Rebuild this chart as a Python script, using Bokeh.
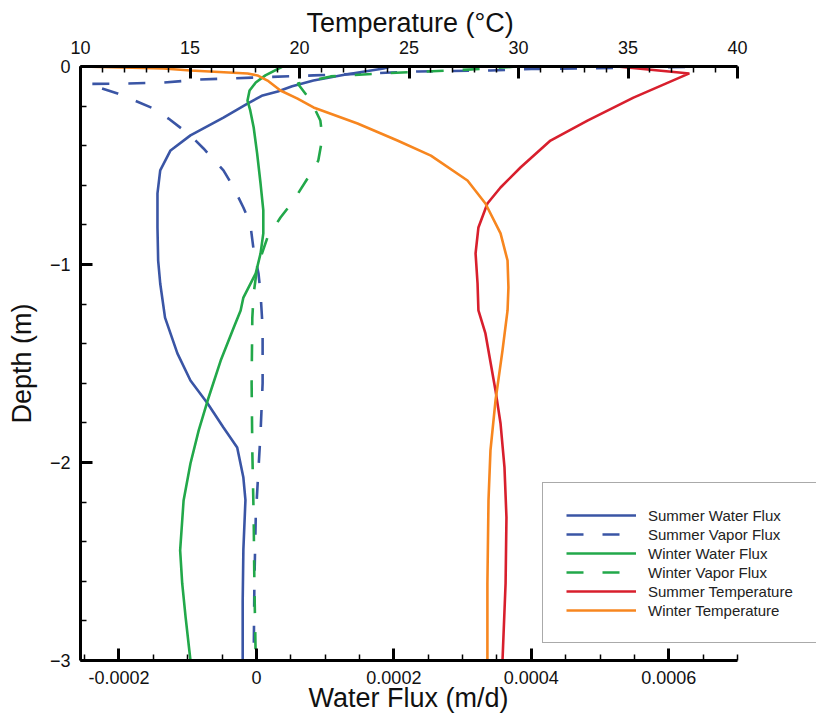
import numpy as np
from bokeh.plotting import figure
from bokeh.models import (Range1d, LinearAxis, FixedTicker, CustomJSTickFormatter,
                          Legend, LegendItem, Title)
from bokeh.embed import file_html
from bokeh.resources import INLINE

# ---------------- data ----------------
# Summer water flux (m/d) vs depth (m)
sw_depth = [0.000, -0.010, -0.040, -0.071, -0.100, -0.126, -0.146, -0.187, -0.258, -0.348,
            -0.424, -0.525, -0.641, -0.813, -0.980, -1.096, -1.268, -1.449, -1.586, -1.702,
            -1.823, -1.924, -2.076, -2.190, -2.440, -2.700, -3.000]
sw_flux = [1.95e-4, 1.85e-4, 1.30e-4, 0.83e-4, 0.52e-4, 0.31e-4, 0.09e-4, -0.13e-4, -0.48e-4, -0.96e-4,
           -1.25e-4, -1.40e-4, -1.44e-4, -1.44e-4, -1.43e-4, -1.40e-4, -1.33e-4, -1.15e-4, -0.96e-4, -0.71e-4,
           -0.48e-4, -0.28e-4, -0.19e-4, -0.16e-4, -0.19e-4, -0.20e-4, -0.20e-4]

# Summer vapor flux
sv_depth = [0.000, -0.005, -0.0126, -0.020, -0.025, -0.040, -0.045, -0.056, -0.066, -0.081,
            -0.086, -0.088, -0.136, -0.162, -0.212, -0.263, -0.348, -0.414, -0.525, -0.600,
            -0.712, -0.793, -0.929, -1.045, -1.146, -1.320, -1.600, -1.850, -2.030, -2.280,
            -2.610, -3.000]
sv_flux = [6.76e-4, 5.6e-4, 4.0e-4, 3.4e-4, 2.35e-4, 1.27e-4, 0.83e-4, -0.06e-4, -0.82e-4, -1.35e-4,
           -1.88e-4, -2.45e-4, -2.02e-4, -1.84e-4, -1.50e-4, -1.28e-4, -0.96e-4, -0.77e-4, -0.48e-4, -0.35e-4,
           -0.19e-4, -0.09e-4, -0.04e-4, 0.03e-4, 0.06e-4, 0.09e-4, 0.09e-4, 0.06e-4, 0.03e-4, -0.01e-4,
           -0.03e-4, -0.04e-4]

# Winter water flux
ww_depth = [0.000, -0.045, -0.081, -0.121, -0.172, -0.222, -0.308, -0.439, -0.591, -0.727,
            -0.843, -0.944, -1.045, -1.167, -1.232, -1.318, -1.485, -1.687, -1.838, -2.005,
            -2.192, -2.444, -2.611, -2.783, -3.000]
ww_flux = [0.38e-4, 0.13e-4, -0.01e-4, -0.10e-4, -0.13e-4, -0.09e-4, -0.04e-4, 0.01e-4, 0.06e-4, 0.10e-4,
           0.10e-4, 0.06e-4, -0.01e-4, -0.19e-4, -0.23e-4, -0.33e-4, -0.52e-4, -0.71e-4, -0.84e-4, -0.96e-4,
           -1.06e-4, -1.11e-4, -1.08e-4, -1.03e-4, -0.96e-4]

# Winter vapor flux
wv_depth = [0.000, -0.010, -0.020, -0.035, -0.050, -0.086, -0.172, -0.273, -0.359, -0.475,
            -0.540, -0.677, -0.763, -0.864, -1.015, -1.146, -1.270, -1.600, -1.940, -2.280,
            -2.610, -3.000]
wv_flux = [3.77e-4, 3.4e-4, 2.83e-4, 1.8e-4, 1.08e-4, 0.60e-4, 0.79e-4, 0.93e-4, 0.96e-4, 0.90e-4,
           0.79e-4, 0.54e-4, 0.35e-4, 0.16e-4, 0.01e-4, -0.04e-4, -0.06e-4, -0.07e-4, -0.06e-4, -0.04e-4,
           -0.03e-4, -0.01e-4]

# Summer temperature (deg C)
st_depth = [0.000, -0.035, -0.157, -0.273, -0.374, -0.510, -0.611, -0.692, -0.813, -0.944,
            -1.096, -1.232, -1.348, -1.636, -1.803, -2.025, -2.278, -2.611, -3.000]
st_temp = [34.5, 37.8, 35.25, 33.15, 31.46, 30.09, 29.18, 28.58, 28.17, 28.04,
           28.13, 28.17, 28.49, 28.95, 29.18, 29.36, 29.45, 29.41, 29.27]

# Winter temperature
wt_depth = [0.000, -0.010, -0.020, -0.035, -0.045, -0.071, -0.121, -0.162, -0.207, -0.288,
            -0.374, -0.450, -0.576, -0.692, -0.843, -0.980, -1.116, -1.232, -1.434, -1.687,
            -1.939, -2.192, -2.611, -3.000]
wt_temp = [10.0, 13.79, 15.02, 17.63, 18.08, 18.54, 19.13, 19.91, 20.64, 22.65,
           24.47, 26.0, 27.67, 28.49, 29.18, 29.5, 29.54, 29.5, 29.27, 28.95,
           28.72, 28.63, 28.58, 28.58]

series_labels = ["Summer Water Flux", "Summer Vapor Flux", "Winter Water Flux",
                 "Winter Vapor Flux", "Summer Temperature", "Winter Temperature"]

flux_ticks = [-0.0002, 0.0, 0.0002, 0.0004, 0.0006]
temp_ticks = [10, 15, 20, 25, 30, 35, 40]
depth_ticks = [0, -1, -2, -3]

# ---------------- figure ----------------
BLUE = "#3a55a5"
GREEN = "#22a84a"
RED = "#d81f2d"
ORANGE = "#f7861f"
FONT = "Liberation Sans"

FLUX_LO, FLUX_HI = -0.000256, 0.0007
T_LO, T_HI = 10, 40
# frame runs 79 px past the axes' right end so the legend can overhang
extra = 79.0 / 657.0
p = figure(width=816, height=716, output_backend="svg", toolbar_location=None,
           x_range=Range1d(FLUX_LO, FLUX_HI + (FLUX_HI - FLUX_LO) * extra), y_range=Range1d(-3, 0),
           x_axis_location=None, y_axis_location=None,
           min_border_left=80, min_border_right=0, min_border_top=66, min_border_bottom=56)
p.extra_x_ranges = {"temp": Range1d(T_LO, T_HI + (T_HI - T_LO) * extra)}
p.grid.visible = False
p.outline_line_color = None
p.background_fill_color = "white"
p.border_fill_color = "white"

def style_axis(ax):
    ax.axis_line_width = 3
    ax.axis_line_color = "black"
    ax.major_tick_line_width = 3
    ax.major_tick_in = 12
    ax.major_tick_out = 0
    ax.minor_tick_line_width = 1.5
    ax.minor_tick_in = 6
    ax.minor_tick_out = 0
    ax.major_label_text_font = FONT
    ax.major_label_text_font_size = "18px"
    ax.major_label_text_color = "#111111"
    ax.axis_label_text_font = FONT
    ax.axis_label_text_font_size = "27px"
    ax.axis_label_text_font_style = "normal"
    ax.axis_label_text_color = "#111111"

flux_minor = list(np.round(np.arange(-0.00025, 0.00070001, 0.00005), 6))
bottom = LinearAxis(ticker=FixedTicker(ticks=flux_ticks, minor_ticks=flux_minor),
                    formatter=CustomJSTickFormatter(code="return Math.abs(tick) < 1e-12 ? '0' : tick.toFixed(4);"),
                    bounds=(FLUX_LO, FLUX_HI))
style_axis(bottom)
bottom.major_label_standoff = 10
p.add_layout(bottom, "below")

top = LinearAxis(x_range_name="temp",
                 ticker=FixedTicker(ticks=temp_ticks, minor_ticks=list(range(10, 41))),
                 bounds=(T_LO, T_HI))
style_axis(top)
top.major_label_standoff = 13
p.add_layout(top, "above")

depth_minor = list(np.round(np.arange(-3.0, 0.0001, 0.2), 2))
left = LinearAxis(ticker=FixedTicker(ticks=depth_ticks, minor_ticks=depth_minor),
                  axis_label="Depth (m)")
style_axis(left)
left.major_label_standoff = 10
left.axis_label_standoff = 10
p.add_layout(left, "left")

# axis titles centred over the axes (not over the wider frame)
top_title = Title(text="Temperature (°C)", align="left", offset=226, standoff=0,
                  text_font=FONT, text_font_size="27px", text_font_style="normal",
                  text_color="#111111")
p.add_layout(top_title, "above")
bottom_title = Title(text="Water Flux (m/d)", align="left", offset=228, standoff=-8,
                     vertical_align="top",
                     text_font=FONT, text_font_size="27px", text_font_style="normal",
                     text_color="#111111")
p.add_layout(bottom_title, "below")

LW = 2.6
DASH = "17 19"
r1 = p.line(sw_flux, sw_depth, line_color=BLUE, line_width=LW)
r2 = p.line(sv_flux, sv_depth, line_color=BLUE, line_width=LW, line_dash=DASH)
r3 = p.line(ww_flux, ww_depth, line_color=GREEN, line_width=LW)
r4 = p.line(wv_flux, wv_depth, line_color=GREEN, line_width=LW, line_dash=DASH)
r5 = p.line(st_temp, st_depth, line_color=RED, line_width=LW, x_range_name="temp")
r6 = p.line(wt_temp, wt_depth, line_color=ORANGE, line_width=LW, x_range_name="temp")

renderers = [r1, r2, r3, r4, r5, r6]
legend = Legend(items=[LegendItem(label=l, renderers=[r]) for l, r in zip(series_labels, renderers)],
                location=(462, 17))
legend.border_line_color = "#555555"
legend.border_line_width = 1.2
legend.background_fill_color = "white"
legend.background_fill_alpha = 1.0
legend.padding = 23
legend.margin = 0
legend.spacing = 1
legend.glyph_width = 70
legend.glyph_height = 18
legend.label_height = 18
legend.label_standoff = 12
legend.label_text_font = FONT
legend.label_text_font_size = "15px"
legend.label_text_color = "#222222"
p.add_layout(legend, "center")

open("out.html", "w").write(file_html(p, INLINE))
